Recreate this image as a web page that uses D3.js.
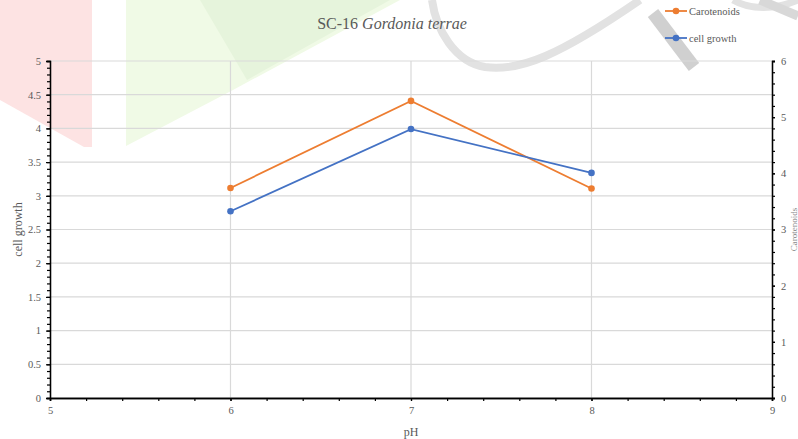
<!DOCTYPE html>
<html>
<head>
<meta charset="utf-8">
<script src="https://cdn.jsdelivr.net/npm/d3@7"></script>
<style>
  body { margin: 0; background: #fff; }
  svg { display: block; font-family: "Liberation Serif", serif; }
</style>
</head>
<body>
<div id="chart"></div>
<script>
const WIDTH = 798;
const HEIGHT = 439;

// values
const phValues = [6, 7, 8];
const carotenoids = [3.74, 5.29, 3.73];
const cellGrowth = [2.77, 3.99, 3.34];

const xTicks = [5, 6, 7, 8, 9];
const leftTicks = [0, 0.5, 1, 1.5, 2, 2.5, 3, 3.5, 4, 4.5, 5];
const rightTicks = [0, 1, 2, 3, 4, 5, 6];

const ORANGE = "#ED7D31";
const BLUE = "#4472C4";
const TEXT = "#595959";
const GRID = "#d9d9d9";
const FONT = "'Liberation Serif', serif";

const margin = { top: 61, right: 26, bottom: 41, left: 50 };

let svg = d3
  .select("#chart")
  .append("svg")
  .attr("width", WIDTH)
  .attr("height", HEIGHT);

//watermark shapes behind the chart
let wm = svg.append("g").attr("class", "watermark");
wm.append("path")
  .attr("d", "M0,0 L92,0 L92,147 L84,147 L0,100 Z")
  .attr("fill", "#fde3e3");
wm.append("path")
  .attr("d", "M126,0 L400,0 L233,90 L126,146 Z")
  .attr("fill", "#f0fae6");
wm.append("path")
  .attr("d", "M200,0 L390,0 L247,80 Z")
  .attr("fill", "#e6f4dc");
wm.append("path")
  .attr("d", "M432,0 C436,30 455,62 485,67 C520,72 560,55 640,0")
  .attr("fill", "none")
  .attr("stroke", "#e2e2e2")
  .attr("stroke-width", 8);
wm.append("path")
  .attr("d", "M653,13 L694,67")
  .attr("stroke", "#d0d0d0")
  .attr("stroke-width", 13);
wm.append("path")
  .attr("d", "M733,0 C750,10 775,10 798,0")
  .attr("fill", "none")
  .attr("stroke", "#e2e2e2")
  .attr("stroke-width", 7);
wm.append("path")
  .attr("d", "M760,0 L798,16")
  .attr("stroke", "#d8d8d8")
  .attr("stroke-width", 9);

const x = d3.scaleLinear().domain([5, 9]).range([margin.left, WIDTH - margin.right]);
const yLeft = d3.scaleLinear().domain([0, 5]).range([HEIGHT - margin.bottom, margin.top]);
const yRight = d3.scaleLinear().domain([0, 6]).range([HEIGHT - margin.bottom, margin.top]);

//gridlines
let grid = svg.append("g").attr("class", "grid");
grid.selectAll("line.h")
  .data(leftTicks)
  .enter()
  .append("line")
  .attr("x1", x(5))
  .attr("x2", x(9))
  .attr("y1", (d) => yLeft(d))
  .attr("y2", (d) => yLeft(d))
  .attr("stroke", GRID)
  .attr("stroke-width", 1.2);
grid.selectAll("line.v")
  .data(xTicks.slice(1, -1))
  .enter()
  .append("line")
  .attr("x1", (d) => x(d))
  .attr("x2", (d) => x(d))
  .attr("y1", yLeft(0))
  .attr("y2", yLeft(5))
  .attr("stroke", GRID)
  .attr("stroke-width", 1.2);

function styleAxis(g) {
  g.attr("font-family", FONT).attr("font-size", 10.5);
  g.select(".domain").attr("stroke", "#000").attr("stroke-width", 1.3);
  g.selectAll(".tick line").attr("stroke", "#000").attr("stroke-width", 1.2);
  g.selectAll("text").attr("fill", TEXT);
}

//minor ticks
svg.append("g")
  .attr("transform", `translate(${margin.left},0)`)
  .call(d3.axisLeft(yLeft).tickValues(d3.range(0, 5.01, 0.1)).tickSize(3).tickFormat(""))
  .call(styleAxis);
svg.append("g")
  .attr("transform", `translate(0,${yLeft(0)})`)
  .call(d3.axisBottom(x).tickValues(d3.range(5, 9.01, 0.2)).tickSize(3).tickFormat(""))
  .call(styleAxis);
svg.append("g")
  .attr("transform", `translate(${x(9)},0)`)
  .call(d3.axisRight(yRight).tickValues(d3.range(0, 6.01, 0.2)).tickSize(3).tickFormat(""))
  .call(styleAxis);

//major axes
svg.append("g")
  .attr("transform", `translate(${margin.left},0)`)
  .call(d3.axisLeft(yLeft).tickValues(leftTicks).tickSize(4).tickPadding(5).tickFormat(d3.format("")))
  .call(styleAxis);
svg.append("g")
  .attr("transform", `translate(0,${yLeft(0)})`)
  .call(d3.axisBottom(x).tickValues(xTicks).tickSize(3).tickPadding(6).tickFormat(d3.format("d")))
  .call(styleAxis);
svg.append("g")
  .attr("transform", `translate(${x(9)},0)`)
  .call(d3.axisRight(yRight).tickValues(rightTicks).tickSize(3).tickPadding(6).tickFormat(d3.format("d")))
  .call(styleAxis);

//series
const series = [
  { name: "Carotenoids", values: carotenoids, scale: yRight, color: ORANGE },
  { name: "cell growth", values: cellGrowth, scale: yLeft, color: BLUE },
];

series.forEach((s) => {
  let line = d3.line()
    .x((d, i) => x(phValues[i]))
    .y((d) => s.scale(d));
  svg.append("path")
    .datum(s.values)
    .attr("d", line)
    .attr("fill", "none")
    .attr("stroke", s.color)
    .attr("stroke-width", 1.8);
  svg.append("g")
    .selectAll("circle")
    .data(s.values)
    .enter()
    .append("circle")
    .attr("cx", (d, i) => x(phValues[i]))
    .attr("cy", (d) => s.scale(d))
    .attr("r", 3.3)
    .attr("fill", s.color);
});

//title
let title = svg.append("text")
  .attr("x", 392)
  .attr("y", 29)
  .attr("text-anchor", "middle")
  .attr("fill", TEXT)
  .style("font-size", "16px");
title.append("tspan").text("SC-16 ");
title.append("tspan").style("font-style", "italic").text("Gordonia terrae");

//axis titles
svg.append("text")
  .attr("x", x(7))
  .attr("y", 436)
  .attr("text-anchor", "middle")
  .attr("fill", TEXT)
  .style("font-size", "12px")
  .text("pH");
svg.append("text")
  .attr("transform", `translate(22,${yLeft(2.5)}) rotate(-90)`)
  .attr("text-anchor", "middle")
  .attr("fill", TEXT)
  .style("font-size", "12px")
  .text("cell growth");
//right axis title sits against the edge of the picture
svg.append("text")
  .attr("transform", `translate(797,${yLeft(2.5)}) rotate(-90)`)
  .attr("text-anchor", "middle")
  .attr("fill", "#8a8a8a")
  .style("font-size", "9px")
  .text("Carotenoids");

//legend
let legend = svg.append("g").attr("class", "legend");
series.forEach((s, i) => {
  let yPos = 11 + i * 27;
  legend.append("line")
    .attr("x1", 665)
    .attr("x2", 687)
    .attr("y1", yPos)
    .attr("y2", yPos)
    .attr("stroke", s.color)
    .attr("stroke-width", 1.8);
  legend.append("circle")
    .attr("cx", 676)
    .attr("cy", yPos)
    .attr("r", 3.3)
    .attr("fill", s.color);
  legend.append("text")
    .attr("x", 689)
    .attr("y", yPos + 3.5)
    .attr("fill", TEXT)
    .style("font-size", "10.5px")
    .text(s.name);
});
</script>
</body>
</html>
